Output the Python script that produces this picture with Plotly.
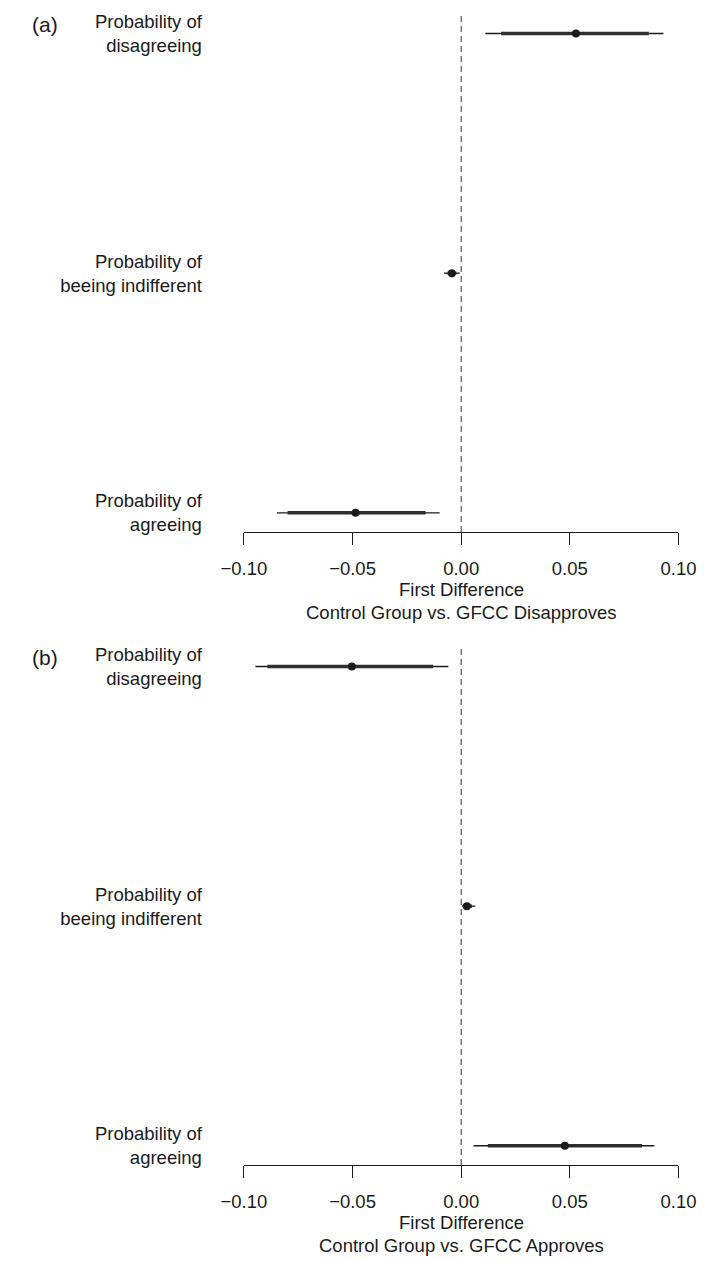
import plotly.graph_objects as go

# ---------------- data ----------------
categories = ["Probability of<br>disagreeing",
              "Probability of<br>beeing indifferent",
              "Probability of<br>agreeing"]
cat_pos = [3, 2, 1]

# Panel (a): Control Group vs. GFCC Disapproves
a_est  = [0.0528, -0.0043, -0.0486]
a_lo95 = [0.0111, -0.0079, -0.0848]
a_hi95 = [0.0931, -0.0007, -0.0099]
a_lo90 = [0.0184, -0.0063, -0.0799]
a_hi90 = [0.0863, -0.0022, -0.0164]

# Panel (b): Control Group vs. GFCC Approves
b_est  = [-0.0503, 0.0026, 0.0477]
b_lo95 = [-0.0947, 0.0004, 0.0057]
b_hi95 = [-0.0059, 0.0065, 0.0889]
b_lo90 = [-0.0892, 0.0010, 0.0123]
b_hi90 = [-0.0129, 0.0050, 0.0832]

x_tickvals = [-0.10, -0.05, 0.00, 0.05, 0.10]
x_ticktext = ["\u22120.10", "\u22120.05", "0.00", "0.05", "0.10"]
xlabel_line1 = "First Difference"
xlabel_a = "Control Group vs. GFCC Disapproves"
xlabel_b = "Control Group vs. GFCC Approves"
panel_labels = ["(a)", "(b)"]

# ---------------- layout constants ----------------
W, H = 716, 1261
INK = "#1a1a1a"
FONT = "Liberation Sans, Arial, Helvetica, sans-serif"
FS = 18.5

x_left_px, x_right_px = 234.3, 695.3
xdom = [x_left_px / W, x_right_px / W]
panel_shift = 636
top_a_px, bot_a_px = 11.4, 531.5
ydom_a = [1 - bot_a_px / H, 1 - top_a_px / H]
ydom_b = [1 - (bot_a_px + panel_shift) / H, 1 - (top_a_px + panel_shift) / H]


def segs(lo, hi, pos):
    xs, ys = [], []
    for l, h, p in zip(lo, hi, pos):
        xs += [l, h, None]
        ys += [p, p, None]
    return xs, ys


fig = go.Figure()

for (est, lo95, hi95, lo90, hi90, xa, ya) in [
    (a_est, a_lo95, a_hi95, a_lo90, a_hi90, "x", "y"),
    (b_est, b_lo95, b_hi95, b_lo90, b_hi90, "x2", "y2"),
]:
    # zero reference line
    fig.add_trace(go.Scatter(x=[0, 0], y=[0.92, 3.08], mode="lines",
                             line=dict(color="#333333", width=1, dash="6px,4px"),
                             xaxis=xa, yaxis=ya, hoverinfo="skip", showlegend=False))
    xs, ys = segs(lo95, hi95, cat_pos)
    fig.add_trace(go.Scatter(x=xs, y=ys, mode="lines",
                             line=dict(color=INK, width=1.3),
                             xaxis=xa, yaxis=ya, showlegend=False))
    xs, ys = segs(lo90, hi90, cat_pos)
    fig.add_trace(go.Scatter(x=xs, y=ys, mode="lines",
                             line=dict(color="#2e2e2e", width=3.4),
                             xaxis=xa, yaxis=ya, showlegend=False))
    fig.add_trace(go.Scatter(x=est, y=cat_pos, mode="markers",
                             marker=dict(color=INK, size=8),
                             xaxis=xa, yaxis=ya, showlegend=False))

xaxis_common = dict(range=[-0.10, 0.10], domain=xdom, showgrid=False, zeroline=False,
                    showline=True, linecolor=INK, linewidth=1,
                    ticks="outside", ticklen=12, tickwidth=1, tickcolor=INK,
                    tickvals=x_tickvals, ticktext=x_ticktext,
                    tickfont=dict(family=FONT, size=FS, color=INK),
                    ticklabelstandoff=8, fixedrange=True)
yaxis_common = dict(range=[0.92, 3.08], showgrid=False, zeroline=False, showline=False,
                    ticks="", tickvals=cat_pos, ticktext=categories,
                    tickfont=dict(family=FONT, size=FS, color=INK),
                    ticklabelstandoff=41, fixedrange=True)

fig.update_layout(
    width=W, height=H,
    margin=dict(l=0, r=0, t=0, b=0),
    paper_bgcolor="white", plot_bgcolor="white",
    font=dict(family=FONT, size=FS, color=INK),
    xaxis=dict(**xaxis_common, anchor="y"),
    yaxis=dict(**yaxis_common, domain=ydom_a, anchor="x"),
    xaxis2=dict(**xaxis_common, anchor="y2"),
    yaxis2=dict(**yaxis_common, domain=ydom_b, anchor="x2"),
)

xc = (xdom[0] + xdom[1]) / 2
ann = []
for i, sub in enumerate([xlabel_a, xlabel_b]):
    off = i * panel_shift
    ann.append(dict(text=xlabel_line1, x=xc, y=1 - (589 + off) / H, xref="paper", yref="paper",
                    xanchor="center", yanchor="middle", showarrow=False,
                    font=dict(family=FONT, size=FS, color=INK)))
    ann.append(dict(text=sub, x=xc, y=1 - (612 + off) / H, xref="paper", yref="paper",
                    xanchor="center", yanchor="middle", showarrow=False,
                    font=dict(family=FONT, size=FS, color=INK)))
    ann.append(dict(text=panel_labels[i], x=23.3 / W, y=1 - (21.5 + off) / H,
                    xref="paper", yref="paper", xanchor="center", yanchor="middle",
                    showarrow=False, font=dict(family=FONT, size=21, color=INK)))
fig.update_layout(annotations=ann)

fig.write_html("out.html")
